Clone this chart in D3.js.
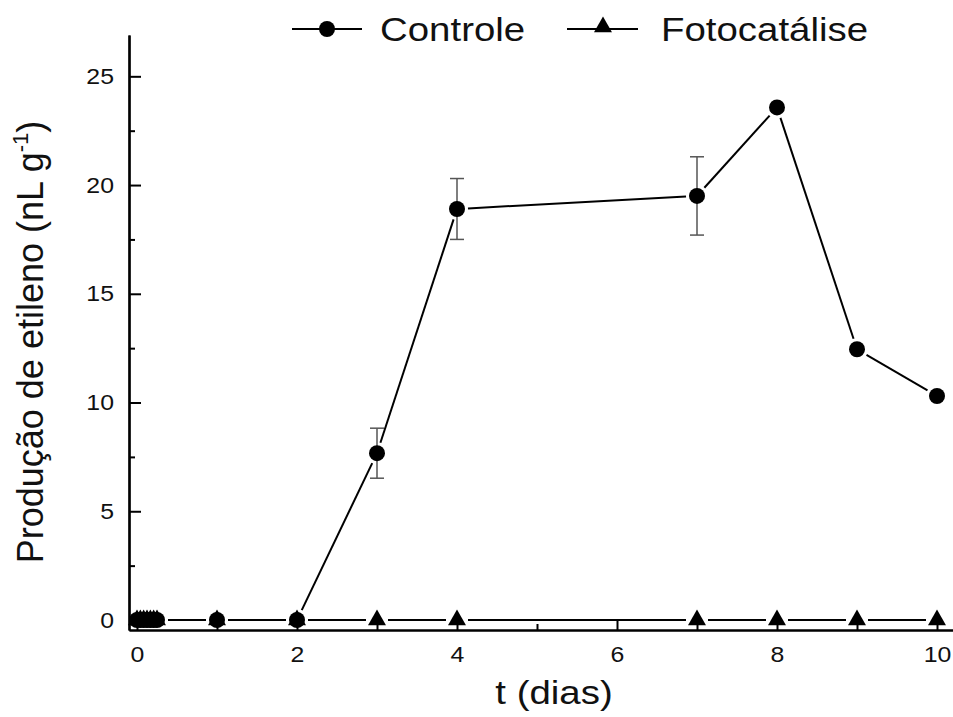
<!DOCTYPE html>
<html>
<head>
<meta charset="utf-8">
<script src="https://cdn.jsdelivr.net/npm/d3@7"></script>
<style>
  body { margin: 0; background: #fff; }
  text { font-family: "Liberation Sans", Arial, sans-serif; fill: #111; }
</style>
</head>
<body>
<div id="chart"></div>
<script>
// time in days (first points are hourly readings, 0-6 h)
var days = [0, 0.042, 0.083, 0.125, 0.167, 0.208, 0.25, 1, 2, 3, 4, 7, 8, 9, 10];
var controle = [0, 0, 0, 0, 0, 0, 0, 0, 0, 7.67, 18.9, 19.5, 23.57, 12.45, 10.3];
var controleErr = [0, 0, 0, 0, 0, 0, 0, 0, 0, 1.15, 1.4, 1.8, 0, 0, 0];
var fotocatalise = [0, 0, 0, 0, 0, 0, 0, 0, 0, 0, 0, 0, 0, 0, 0];
var xTicks = [0, 2, 4, 6, 8, 10];
var yTicks = [0, 5, 10, 15, 20, 25];

var W = 953, H = 717;
var stretch = 1.13;

var svg = d3.select("#chart").append("svg")
    .attr("width", W)
    .attr("height", H);

var x = d3.scaleLinear().domain([-0.1, 10.2]).range([129, 953]);
var y = d3.scaleLinear().domain([-0.46, 26.9]).range([630, 35]);

var controlePts = days.map(function (d, i) { return { x: d, y: controle[i], e: controleErr[i] }; });
var fotoPts = days.map(function (d, i) { return { x: d, y: fotocatalise[i] }; });

// connecting segments, stopped short of the markers
function drawSegments(pts, gap) {
    for (var i = 1; i < pts.length; i++) {
        var x0 = x(pts[i - 1].x), y0 = y(pts[i - 1].y);
        var x1 = x(pts[i].x), y1 = y(pts[i].y);
        var len = Math.sqrt((x1 - x0) * (x1 - x0) + (y1 - y0) * (y1 - y0));
        if (len <= gap * 2) continue;
        var ux = (x1 - x0) / len, uy = (y1 - y0) / len;
        svg.append("line")
            .attr("x1", x0 + ux * gap).attr("y1", y0 + uy * gap)
            .attr("x2", x1 - ux * gap).attr("y2", y1 - uy * gap)
            .attr("stroke", "#000")
            .attr("stroke-width", 2);
    }
}

drawSegments(fotoPts, 11);
drawSegments(controlePts, 11);

// error bars
var errPts = controlePts.filter(function (d) { return d.e > 0; });
var eb = svg.append("g").attr("stroke", "#555").attr("stroke-width", 1.5);
errPts.forEach(function (d) {
    eb.append("line").attr("x1", x(d.x)).attr("x2", x(d.x))
        .attr("y1", y(d.y - d.e)).attr("y2", y(d.y + d.e));
    [d.y - d.e, d.y + d.e].forEach(function (v) {
        eb.append("line").attr("x1", x(d.x) - 7).attr("x2", x(d.x) + 7)
            .attr("y1", y(v)).attr("y2", y(v));
    });
});

svg.selectAll(".circ")
    .data(controlePts)
    .enter().append("circle")
    .attr("class", "circ")
    .attr("cx", function (d) { return x(d.x); })
    .attr("cy", function (d) { return y(d.y); })
    .attr("r", 8)
    .attr("fill", "#000");

var tri = d3.symbol().type(d3.symbolTriangle).size(140);
svg.selectAll(".tri")
    .data(fotoPts)
    .enter().append("path")
    .attr("class", "tri")
    .attr("d", tri)
    .attr("transform", function (d) { return "translate(" + x(d.x) + "," + y(d.y) + ")"; })
    .attr("fill", "#000");

// axes, ticks pointing inward
var minorX = d3.range(0, 11, 1).filter(function (v) { return xTicks.indexOf(v) < 0; });
var minorY = d3.range(2.5, 26, 5);

var gx = svg.append("g").attr("transform", "translate(0,630)");
gx.call(d3.axisBottom(x).tickValues(xTicks).tickSizeInner(-11).tickSizeOuter(0).tickPadding(10));
gx.append("g").call(d3.axisBottom(x).tickValues(minorX).tickSizeInner(-6).tickSizeOuter(0).tickFormat(""));

var gy = svg.append("g").attr("transform", "translate(129,0)");
gy.call(d3.axisLeft(y).tickValues(yTicks).tickSizeInner(-12).tickSizeOuter(0).tickPadding(15));
gy.append("g").call(d3.axisLeft(y).tickValues(minorY).tickSizeInner(-6).tickSizeOuter(0).tickFormat(""));

svg.selectAll(".domain").attr("stroke", "#000").attr("stroke-width", 2.2);
svg.selectAll(".tick line").attr("stroke", "#000").attr("stroke-width", 2);

gx.selectAll(".tick text")
    .attr("font-size", 22)
    .attr("font-family", "Liberation Sans, Arial, sans-serif")
    .attr("fill", "#111")
    .attr("dy", "1em")
    .attr("transform", "scale(" + stretch + ",1)");

gy.selectAll(".tick text")
    .attr("font-size", 22)
    .attr("font-family", "Liberation Sans, Arial, sans-serif")
    .attr("fill", "#111")
    .attr("x", -15 / stretch)
    .attr("transform", "scale(" + stretch + ",1)");

// titles
svg.append("text")
    .attr("transform", "translate(554,704) scale(" + stretch + ",1)")
    .attr("text-anchor", "middle")
    .attr("font-size", 34)
    .text("t (dias)");

var yl = svg.append("text")
    .attr("transform", "translate(43,342) rotate(-90)")
    .attr("text-anchor", "middle")
    .attr("font-size", 36);
yl.append("tspan").text("Produção de etileno (nL g");
yl.append("tspan").attr("font-size", 22).attr("dy", -15).text("-1");
yl.append("tspan").attr("dy", 15).text(")");

// legend
var lg = svg.append("g");
lg.append("line").attr("x1", 292).attr("x2", 362).attr("y1", 29).attr("y2", 29)
    .attr("stroke", "#000").attr("stroke-width", 2);
lg.append("circle").attr("cx", 327).attr("cy", 29).attr("r", 8).attr("fill", "#000");
lg.append("text")
    .attr("transform", "translate(380,41) scale(" + stretch + ",1)")
    .attr("font-size", 34)
    .text("Controle");

lg.append("line").attr("x1", 567).attr("x2", 638).attr("y1", 29).attr("y2", 29)
    .attr("stroke", "#000").attr("stroke-width", 2);
lg.append("path").attr("d", tri).attr("fill", "#000")
    .attr("transform", "translate(603,27)");
lg.append("text")
    .attr("transform", "translate(661,41) scale(" + stretch + ",1)")
    .attr("font-size", 34)
    .text("Fotocatálise");
</script>
</body>
</html>
